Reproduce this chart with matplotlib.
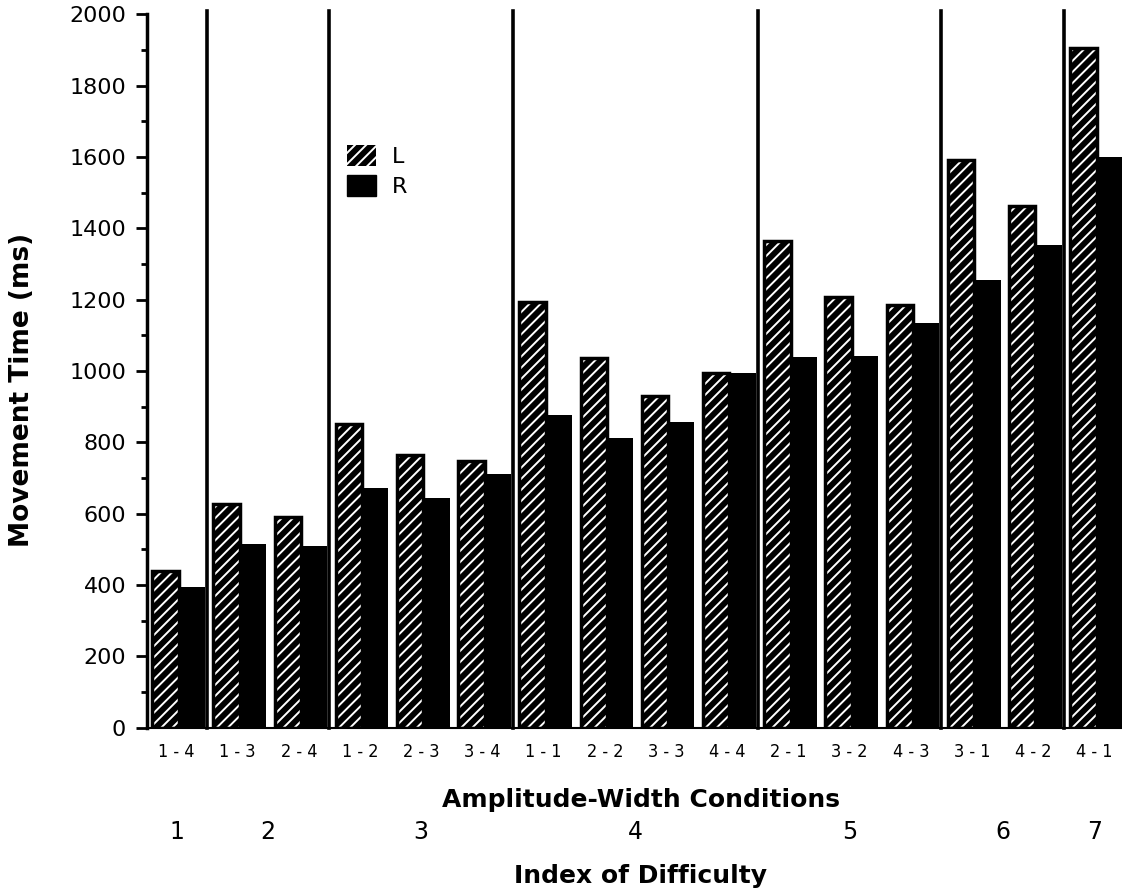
import numpy as np
import matplotlib
matplotlib.use("Agg")
import matplotlib.pyplot as plt
from matplotlib.patches import Patch

conditions = ["1-4", "1-3", "2-4", "1-2", "2-3", "3-4", "1-1", "2-2",
              "3-3", "4-4", "2-1", "3-2", "4-3", "3-1", "4-2", "4-1"]
left_mt = [440, 626, 590, 851, 764, 749, 1194, 1037,
           931, 994, 1364, 1207, 1185, 1591, 1463, 1905]
right_mt = [395, 515, 509, 673, 643, 711, 877, 811,
            857, 994, 1040, 1042, 1134, 1254, 1353, 1601]
id_labels = ["1", "2", "3", "4", "5", "6", "7"]
id_group_sizes = [1, 2, 3, 4, 3, 2, 1]

plt.rcParams["font.family"] = ["DejaVu Sans"]
plt.rcParams["hatch.linewidth"] = 1.4

fig = plt.figure(figsize=(11.22, 8.94), dpi=100)
ax = fig.add_axes([147 / 1122, 1 - 727.7 / 894, 975 / 1122, 713.3 / 894])

x = np.arange(len(conditions))
w = 0.43
# L bars: black with white diagonal hatching, black outline
ax.bar(x - 0.18, left_mt, width=w, color="black", edgecolor="white",
       hatch="///", linewidth=0)
ax.bar(x - 0.18, left_mt, width=w, fill=False, edgecolor="black", linewidth=2.5)
ax.bar(x + 0.25, right_mt, width=w, color="black", linewidth=0)

# separators between index-of-difficulty groups
bounds = np.cumsum(id_group_sizes)[:-1] - 0.5
for b in bounds:
    ax.plot([b, b], [0, 2010], color="black", linewidth=2.6, clip_on=False)

ax.set_xlim(-0.48, 15.45)
ax.set_ylim(0, 2000)
ax.set_yticks(np.arange(0, 2001, 200))
ax.set_yticks(np.arange(100, 2000, 200), minor=True)
ax.tick_params(axis="y", which="major", length=8, width=2, labelsize=16, pad=7)
ax.tick_params(axis="y", which="minor", length=4, width=2)
ax.set_xticks(x)
ax.set_xticklabels([c.replace("-", " - ") for c in conditions],
                   fontsize=13, fontstretch="condensed")
ax.tick_params(axis="x", length=0, pad=11)

for s in ["top", "right"]:
    ax.spines[s].set_visible(False)
ax.spines["left"].set_linewidth(2.5)
ax.spines["bottom"].set_linewidth(1.5)

# index of difficulty numbers
starts = np.concatenate([[0], np.cumsum(id_group_sizes)[:-1]])
centers = starts + (np.array(id_group_sizes) - 1) / 2
trans = matplotlib.transforms.blended_transform_factory(ax.transData, fig.transFigure)
for c, lab in zip(centers, id_labels):
    ax.text(c, 1 - 832 / 894, lab, transform=trans, ha="center", va="center",
            fontsize=17)

fig.text(0.571, 1 - 800 / 894, "Amplitude-Width Conditions", ha="center",
         va="center", fontsize=18, fontweight="bold")
fig.text(0.571, 1 - 876 / 894, "Index of Difficulty", ha="center",
         va="center", fontsize=18, fontweight="bold")
fig.text(22 / 1122, 1 - 390 / 894, "Movement Time (ms)", ha="center",
         va="center", rotation=90, fontsize=19, fontweight="bold")

handles = [Patch(facecolor="black", edgecolor="white", hatch="///", linewidth=0),
           Patch(facecolor="black", edgecolor="black")]
ax.legend(handles, ["L", "R"], loc="upper left", bbox_to_anchor=(0.185, 0.845),
          frameon=False, fontsize=16, handlelength=1.3, handleheight=1.1,
          labelspacing=0.35, handletextpad=0.7)

plt.savefig("out.png", dpi=100)
